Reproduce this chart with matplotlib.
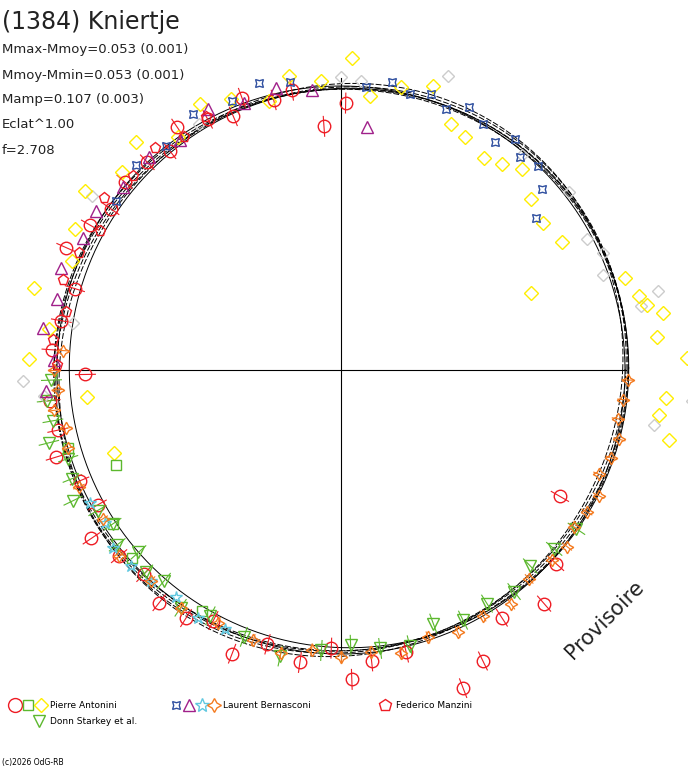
import numpy as np
import matplotlib.pyplot as plt

# polar light curve: angle = phase (deg, ccw from east), r = normalised magnitude
red_ang = [89, 94, 100, 104, 110, 113, 118, 124, 128, 133, 139, 145, 150, 156, 163, 170, 176, 181, 186,
           192, 197, 203, 209, 214, 220, 226, 232, 238, 243, 249, 255, 262, 268, 272, 276, 283, 291,
           296, 303, 311, 318, 330]
red_r = [0.94, 0.86, 1.0, 0.98, 1.02, 0.97, 1.0, 1.03, 0.98, 1.0, 1.01, 0.99, 1.02, 1.06, 0.98, 1.0, 1.02, 0.9,
         1.03, 1.02, 1.05, 1.0, 0.98, 1.06, 1.02, 1.0, 1.04, 1.03, 0.99, 1.07, 1.0, 1.04, 0.98, 1.09, 1.03,
         1.02, 1.2, 1.14, 1.04, 1.09, 1.02, 0.89]
yel_ang = [2, 6, 10, 12, 14, 18, 22, 30, 36, 42, 48, 52, 56, 62, 66, 72, 78, 84, 88, 94, 100, 105, 112,
           118, 125, 132, 138, 145, 152, 158, 165, 172, 178, 186, 200, 355, 348, 352]
yel_r = [1.22, 1.12, 1.15, 1.1, 1.08, 1.05, 0.72, 0.9, 0.88, 0.9, 0.95, 0.92, 0.9, 0.93, 0.95, 1.05, 1.02, 0.97,
         1.1, 1.02, 1.05, 0.98, 1.03, 1.06, 1.0, 1.08, 1.04, 1.1, 1.06, 1.02, 1.12, 1.04, 1.1, 0.9, 0.85,
         1.15, 1.18, 1.13]
gsq_ang = [196, 203, 214, 222, 240]
gsq_r = [1.0, 0.86, 0.97, 0.99, 0.98]
gtri_ang = [182, 186, 190, 194, 198, 202, 206, 210, 214, 218, 222, 226, 230, 236, 242, 250, 258, 266,
            272, 278, 284, 290, 296, 302, 308, 314, 320, 326]
gtri_r = [1.02, 1.04, 1.03, 1.06, 1.01, 1.02, 1.05, 0.99, 0.97, 1.0, 0.96, 0.99, 0.97, 1.01, 0.98, 1.0,
          1.03, 0.99, 0.97, 0.99, 1.0, 0.95, 0.98, 0.97, 0.99, 0.96, 0.98, 1.0]
blue_ang = [38, 42, 46, 50, 53, 56, 60, 64, 68, 72, 76, 80, 85, 100, 106, 112, 120, 128, 135, 143]
blue_r = [0.87, 0.95, 1.0, 0.98, 1.02, 0.97, 1.0, 1.03, 0.99, 1.02, 1.0, 1.03, 1.0, 1.03, 1.05, 1.02, 1.04,
          1.0, 1.02, 0.99]
purp_ang = [84, 96, 103, 110, 117, 125, 132, 140, 147, 153, 160, 166, 172, 178, 184]
purp_r = [0.86, 0.99, 1.02, 1.0, 1.03, 0.99, 1.01, 1.0, 1.03, 1.02, 1.05, 1.03, 1.06, 1.01, 1.04]
cyan_ang = [208, 213, 218, 223, 228, 234, 240, 246]
cyan_r = [1.0, 0.99, 1.02, 1.01, 1.0, 0.99, 1.01, 1.0]
orng_ang = [176, 180, 184, 188, 192, 196, 204, 212, 220, 228, 236, 244, 252, 258, 264, 270, 276, 282,
            288, 294, 300, 306, 312, 318, 322, 326, 330, 334, 338, 342, 346, 350, 354, 358]
orng_r = [0.98, 1.01, 1.0, 1.02, 0.99, 1.0, 1.01, 0.99, 1.02, 1.0, 1.01, 0.99, 1.0, 1.02, 0.99, 1.01,
          1.0, 1.02, 0.99, 1.01, 1.0, 1.02, 0.99, 1.0, 1.01, 0.99, 1.0, 1.01, 0.98, 1.0, 1.01, 0.99, 1.0, 1.01]
pent_ang = [118, 124, 130, 137, 144, 150, 156, 162, 168, 174, 179]
pent_r = [1.01, 0.99, 1.02, 1.0, 1.03, 0.98, 1.01, 1.03, 0.99, 1.02, 1.0]
grey_ang = [12, 14, 20, 24, 28, 38, 50, 70, 86, 90, 120, 145, 170, 182, 185, 350, 355]
grey_r = [1.08, 1.15, 0.98, 1.01, 0.98, 1.02, 0.99, 1.1, 1.02, 1.03, 1.0, 1.07, 0.96, 1.12, 1.05, 1.12, 1.24]

legend_rows = [("Pierre Antonini", 50, 705), ("Laurent Bernasconi", 223, 705),
               ("Federico Manzini", 396, 705), ("Donn Starkey et al.", 50, 721)]
stats = ["Mmax-Mmoy=0.053 (0.001)", "Mmoy-Mmin=0.053 (0.001)", "Mamp=0.107 (0.003)", "Eclat^1.00", "f=2.708"]

cx, cy, R = 341, 370, 284


def xy(ang, r):
    a = np.radians(np.asarray(ang, float))
    r = np.asarray(r, float)
    return cx + R * r * np.cos(a), cy - R * r * np.sin(a)


fig = plt.figure(figsize=(6.88, 7.68), dpi=100)
ax = fig.add_axes([0, 0, 1, 1])
ax.set_xlim(0, 688)
ax.set_ylim(768, 0)
ax.axis("off")

ax.plot([55, 626], [cy, cy], color="black", lw=0.8)
ax.plot([cx, cx], [78, 662], color="black", lw=0.8)

t = np.linspace(0, 2 * np.pi, 400)
td = np.degrees(t)
ax.plot(*xy(td, np.ones_like(t)), color="black", lw=0.7)
ax.plot(cx + 8 + R * 0.985 * np.cos(t), cy - 2 - R * 0.985 * np.sin(t), color="black", lw=0.7)
for k, ph in zip([0.012, 0.016, 0.02, 0.024], [10, 25, 40, 55]):
    ax.plot(*xy(td, 1 + k * np.cos(2 * (t - np.radians(ph)))), color="black", lw=0.7, ls=(0, (6, 2)))


def errs(ang, r, color, d=0.035):
    a = np.asarray(ang, float)
    r = np.asarray(r, float)
    x0, y0 = xy(a, r - d)
    x1, y1 = xy(a, r + d)
    for i in range(len(a)):
        ax.plot([x0[i], x1[i]], [y0[i], y1[i]], color=color, lw=0.8)


errs(red_ang, red_r, "#ee1c24")
errs(gtri_ang, gtri_r, "#5cb82e")
errs(orng_ang, orng_r, "#f47b20", 0.02)

kw = dict(ls="none", mfc="none", mew=1.0)
ax.plot(*xy(grey_ang, grey_r), marker="D", ms=6, color="#cccccc", **kw)
ax.plot(*xy(yel_ang, yel_r), marker="D", ms=7, color="#ffee00", **kw)
ax.plot(*xy(red_ang, red_r), marker="o", ms=9, color="#ee1c24", **kw)
ax.plot(*xy(gsq_ang, gsq_r), marker="s", ms=7, color="#5cb82e", **kw)
ax.plot(*xy(gtri_ang, gtri_r), marker="v", ms=8, color="#5cb82e", **kw)
ax.plot(*xy(blue_ang, blue_r), marker=(4, 1, 45), ms=8, color="#3050a0", **kw)
ax.plot(*xy(purp_ang, purp_r), marker="^", ms=8, color="#a0208a", **kw)
ax.plot(*xy(cyan_ang, cyan_r), marker="*", ms=9, color="#60c8e0", **kw)
ax.plot(*xy(orng_ang, orng_r), marker=(4, 1, 0), ms=9, color="#f47b20", **kw)
ax.plot(*xy(pent_ang, pent_r), marker="p", ms=8, color="#ee1c24", **kw)

# legend
lk = dict(ls="none", mfc="none", mew=1.0)
ax.plot([15], [705], marker="o", ms=10, color="#ee1c24", **lk)
ax.plot([28], [705], marker="s", ms=7, color="#5cb82e", **lk)
ax.plot([41], [705], marker="D", ms=7, color="#ffee00", **lk)
ax.plot([176], [705], marker=(4, 1, 45), ms=8, color="#3050a0", **lk)
ax.plot([189], [705], marker="^", ms=8, color="#a0208a", **lk)
ax.plot([202], [705], marker="*", ms=10, color="#60c8e0", **lk)
ax.plot([214], [705], marker=(4, 1, 0), ms=10, color="#f47b20", **lk)
ax.plot([385], [705], marker="p", ms=9, color="#ee1c24", **lk)
ax.plot([39], [721], marker="v", ms=8, color="#5cb82e", **lk)
for label, x, y in legend_rows:
    ax.text(x, y, label, fontsize=6.5, va="center", ha="left")

ax.text(2, 22, "(1384) Kniertje", fontsize=17, color="#222222", va="center")
for i, s in enumerate(stats):
    ax.text(2, 50 + 25 * i, s, fontsize=9.5, color="#222222", va="center")
ax.text(2, 762, "(c)2026 OdG-RB", fontsize=5.5, va="center")
ax.text(605, 620, "Provisoire", fontsize=15, rotation=45, ha="center", va="center", color="#222222")

fig.savefig("out.png", dpi=100)
